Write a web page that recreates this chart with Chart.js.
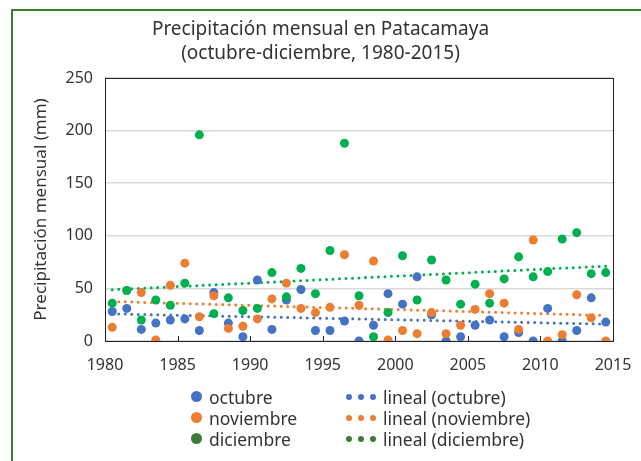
<!DOCTYPE html>
<html>
<head>
<meta charset="utf-8">
<script src="https://cdn.jsdelivr.net/npm/chart.js@4"></script>
<style>
    html, body { margin: 0; padding: 0; background: #fff; overflow: hidden; }
    #wrap { position: relative; width: 641px; height: 461px; }
    #frame { position: absolute; left: 11px; top: 9px; width: 700px; height: 520px; border: 2px solid #3b7a31; box-sizing: border-box; }
    #chart { position: absolute; left: 0; top: 0; }
    #legend { position: absolute; left: 191px; top: 386px; display: grid; grid-template-columns: 155px auto; grid-auto-rows: 21px;
              font-family: "Noto Sans", sans-serif; font-size: 17.5px; color: #333; }
    .item { display: flex; align-items: center; white-space: nowrap; }
    .dot { width: 11px; height: 11px; border-radius: 50%; margin-right: 7px; }
    .dots { display: flex; width: 30px; justify-content: space-between; margin-right: 7px; }
    .dots span { width: 6px; height: 6px; border-radius: 50%; }
</style>
</head>
<body>
<div id="wrap">
    <div id="frame"></div>
    <canvas id="chart" width="641" height="461"></canvas>
    <div id="legend"></div>
</div>
<script>
var years = [1980, 1981, 1982, 1983, 1984, 1985, 1986, 1987, 1988, 1989,
             1990, 1991, 1992, 1993, 1994, 1995, 1996, 1997, 1998, 1999,
             2000, 2001, 2002, 2003, 2004, 2005, 2006, 2007, 2008, 2009,
             2010, 2011, 2012, 2013, 2014];

var octubre = [28, 31, 11, 17, 20, 21, 10, 46, 17, 4,
               58, 11, 39, 49, 10, 10, 19, 0, 15, 45,
               35, 61, 25, 0, 4, 15, 20, 4, 8, 0,
               31, 0, 10, 41, 18];

var noviembre = [13, 48, 46, 1, 53, 74, 23, 43, 12, 14,
                 21, 40, 55, 31, 27, 32, 82, 34, 76, 1,
                 10, 7, 27, 7, 15, 30, 45, 36, 11, 96,
                 0, 6, 44, 22, 0];

var diciembre = [36, 48, 20, 39, 34, 55, 196, 26, 41, 29,
                 31, 65, 42, 69, 45, 86, 188, 43, 4, 27,
                 81, 39, 77, 58, 35, 54, 36, 59, 80, 61,
                 66, 97, 103, 64, 65];

var series_names = ["octubre", "noviembre", "diciembre"];
var series_values = [octubre, noviembre, diciembre];
var series_colors = ["#4472c4", "#ed7d31", "#00b050"];
var legend_colors = ["#4472c4", "#ed7d31", "#3b7d35"];

var x_ticks = [1980, 1985, 1990, 1995, 2000, 2005, 2010, 2015];
var y_ticks = [0, 50, 100, 150, 200, 250];

// points sit in the middle of each year
var get_points = function (values) {
    var pts = [];

    for (var i = 0; i < years.length; i++) {
        pts.push({"x": years[i] + 0.5, "y": values[i]});
    }

    return pts;
};

// least squares trend, drawn between first and last point like Excel does
var get_trend = function (values) {
    var pts = get_points(values);
    var n = pts.length, sx = 0, sy = 0, sxx = 0, sxy = 0;

    pts.forEach(function (p) {
        sx += p.x; sy += p.y; sxx += p.x * p.x; sxy += p.x * p.y;
    });

    var slope = (n * sxy - sx * sy) / (n * sxx - sx * sx);
    var icpt = (sy - slope * sx) / n;
    var x0 = pts[0].x, x1 = pts[n - 1].x;

    return [{"x": x0, "y": icpt + slope * x0}, {"x": x1, "y": icpt + slope * x1}];
};

var datasets = [];

// lower order is drawn on top, so diciembre ends up above the others
for (var s = 0; s < 3; s++) {
    datasets.push({
        "type": "scatter",
        "label": series_names[s],
        "data": get_points(series_values[s]),
        "backgroundColor": series_colors[s],
        "borderWidth": 0,
        "pointRadius": 4.5,
        "order": 3 - s
    });
}

for (var t = 0; t < 3; t++) {
    datasets.push({
        "type": "line",
        "label": "lineal (" + series_names[t] + ")",
        "data": get_trend(series_values[t]),
        "borderColor": series_colors[t],
        "borderWidth": 3,
        "borderDash": [0, 6.5],
        "borderCapStyle": "round",
        "pointRadius": 0,
        "fill": false,
        "order": 10 - t
    });
}

var frame_plugin = {
    "id": "frame_plugin",
    "beforeDatasetsDraw": function (chart) {
        var ctx = chart.ctx;
        var a = chart.chartArea;
        var xs = chart.scales.x;

        ctx.save();
        ctx.strokeStyle = "#222";
        ctx.lineWidth = 1;
        ctx.strokeRect(Math.round(a.left) + 0.5, Math.round(a.top) + 0.5, Math.round(a.right - a.left), Math.round(a.bottom - a.top));

        // inside tick marks on the x axis
        ctx.beginPath();
        x_ticks.forEach(function (v) {
            var px = Math.round(xs.getPixelForValue(v)) + 0.5;
            ctx.moveTo(px, a.bottom);
            ctx.lineTo(px, a.bottom - 5);
        });
        ctx.stroke();
        ctx.restore();
    }
};

var chart = new Chart(document.getElementById("chart").getContext("2d"), {
    "type": "scatter",
    "data": {"datasets": datasets},
    "plugins": [frame_plugin],
    "options": {
        "responsive": false,
        "animation": false,
        "layout": {"padding": {"left": 0, "right": 0, "top": 0, "bottom": 90}},
        "scales": {
            "x": {
                "type": "linear",
                "min": 1980,
                "max": 2015,
                "afterBuildTicks": function (scale) {
                    scale.ticks = x_ticks.map(function (v) { return {"value": v}; });
                },
                "afterFit": function (scale) {
                    scale.height = 30;
                    scale.paddingLeft = 0;
                    scale.paddingRight = 0;
                },
                "grid": {"display": false, "drawTicks": false},
                "border": {"display": false},
                "ticks": {
                    "padding": 15,
                    "color": "#333",
                    "font": {"family": "Noto Sans", "size": 16},
                    "callback": function (v) { return String(v); }
                }
            },
            "y": {
                "min": 0,
                "max": 250,
                "afterBuildTicks": function (scale) {
                    scale.ticks = y_ticks.map(function (v) { return {"value": v}; });
                },
                "afterFit": function (scale) { scale.width = 105; },
                "grid": {"color": "#d9d9d9", "lineWidth": 1.5, "drawTicks": false},
                "border": {"display": false},
                "ticks": {
                    "padding": 12,
                    "color": "#333",
                    "font": {"family": "Noto Sans", "size": 16}
                },
                "title": {
                    "display": true,
                    "text": "Precipitación mensual (mm)",
                    "color": "#333",
                    "font": {"family": "Noto Sans", "size": 17},
                    "padding": {"top": 31, "bottom": 0}
                }
            },
            // empty right axis only keeps the plot clear of the right edge
            "spacer": {
                "type": "linear",
                "position": "right",
                "afterFit": function (scale) { scale.width = 28; },
                "grid": {"display": false, "drawTicks": false},
                "border": {"display": false},
                "ticks": {"display": false}
            }
        },
        "plugins": {
            "legend": {"display": false},
            "tooltip": {"enabled": false},
            "title": {
                "display": true,
                "text": ["Precipitación mensual en Patacamaya", "(octubre-diciembre, 1980-2015)"],
                "color": "#333",
                "font": {"family": "Noto Sans", "size": 19, "weight": "normal", "lineHeight": 1.25},
                "padding": {"top": 18, "bottom": 12.5}
            }
        }
    }
});

// legend: markers in first column, trend lines in second
var legend = document.getElementById("legend");

for (var r = 0; r < 3; r++) {
    var a = document.createElement("div");
    a.className = "item";
    a.innerHTML = '<span class="dot" style="background:' + legend_colors[r] + '"></span>' + series_names[r];
    legend.appendChild(a);

    var b = document.createElement("div");
    b.className = "item";
    var c = legend_colors[r];
    b.innerHTML = '<span class="dots"><span style="background:' + c + '"></span><span style="background:' + c + '"></span><span style="background:' + c + '"></span></span>' + chart.data.datasets[3 + r].label;
    legend.appendChild(b);
}
</script>
</body>
</html>
